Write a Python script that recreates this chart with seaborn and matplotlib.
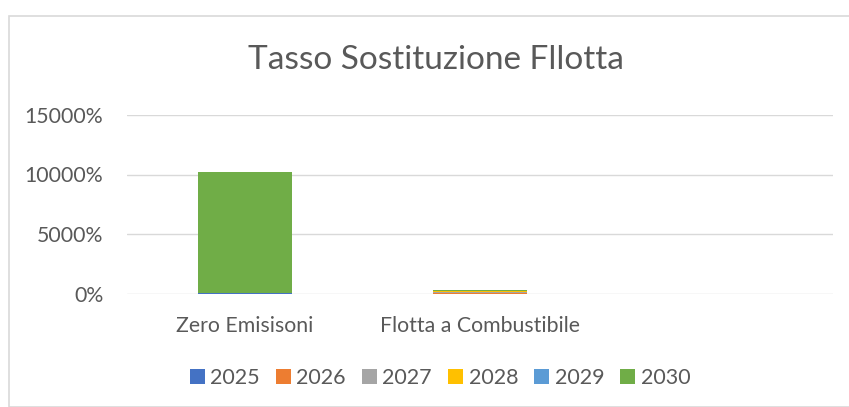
import numpy as np
import pandas as pd
import seaborn as sns
import matplotlib.pyplot as plt
from matplotlib.patches import Rectangle
from matplotlib.ticker import FuncFormatter

categories = ["Zero Emisisoni", "Flotta a Combustibile", ""]
years = ["2025", "2026", "2027", "2028", "2029", "2030"]
colors = ["#4472C4", "#ED7D31", "#A5A5A5", "#FFC000", "#5B9BD5", "#70AD47"]

# percent values per year (stacked), third category is empty
v2025 = [5, 0, 0]
v2026 = [10, 30, 0]
v2027 = [10, 80, 0]
v2028 = [50, 130, 0]
v2029 = [5, 10, 0]
v2030 = [10120, 20, 0]

series = [v2025, v2026, v2027, v2028, v2029, v2030]

sns.set_theme(style="white")
plt.rcParams["font.family"] = ["Lato", "DejaVu Sans"]
text_col = "#595959"

fig = plt.figure(figsize=(8.49, 4.07), dpi=100)
W, H = 849, 407

# outer chart frame
fig.patches.append(Rectangle((9 / W, 0), 1.0, 1 - 16 / H, transform=fig.transFigure,
                             fill=False, edgecolor="#D9D9D9", linewidth=1.2))

ax = fig.add_axes([127 / W, (H - 293.5) / H, (833 - 127) / W, (293.5 - 115) / H])

cum = np.cumsum(np.array(series), axis=0)
df_rows = []
for yi, y in enumerate(years):
    for ci, c in enumerate(categories[:2]):
        df_rows.append({"cat": c, "year": y, "top": cum[yi, ci]})
df = pd.DataFrame(df_rows)

# draw from the top of the stack downwards so lower segments overlay
for yi in range(len(years) - 1, -1, -1):
    sub = df[df["year"] == years[yi]]
    sns.barplot(data=sub, x="cat", y="top", order=categories, color=colors[yi],
                width=0.4, linewidth=0, saturation=1, ax=ax, label=years[yi])

handles, labels = ax.get_legend_handles_labels()
if ax.get_legend() is not None:
    ax.get_legend().remove()

ax.set_xlim(-0.5, 2.5)
ax.set_ylim(0, 15000)
ax.set_yticks([0, 5000, 10000, 15000])
ax.yaxis.set_major_formatter(FuncFormatter(lambda v, p: f"{int(v)}%"))
ax.grid(axis="y", color="#D9D9D9", linewidth=1)
ax.set_axisbelow(True)
for s in ax.spines.values():
    s.set_visible(False)
ax.set_xlabel("")
ax.set_ylabel("")
ax.set_xticks(range(3))
ax.set_xticklabels(categories)
ax.tick_params(axis="both", colors=text_col, labelsize=15.3, length=0)
ax.tick_params(axis="y", pad=17)
ax.tick_params(axis="x", pad=16)

fig.text(436 / W, 1 - 60 / H, "Tasso Sostituzione Fllotta", ha="center", va="center",
         fontsize=24, color=text_col)

order = [labels.index(y) for y in years]
fig.legend([handles[i] for i in order], years, loc="center",
           bbox_to_anchor=(440 / W, 1 - 378 / H), ncol=6, frameon=False,
           fontsize=15.5, handlelength=0.7, handleheight=0.7,
           handletextpad=0.25, columnspacing=0.75, labelcolor=text_col)

fig.savefig("out.png", dpi=100)
